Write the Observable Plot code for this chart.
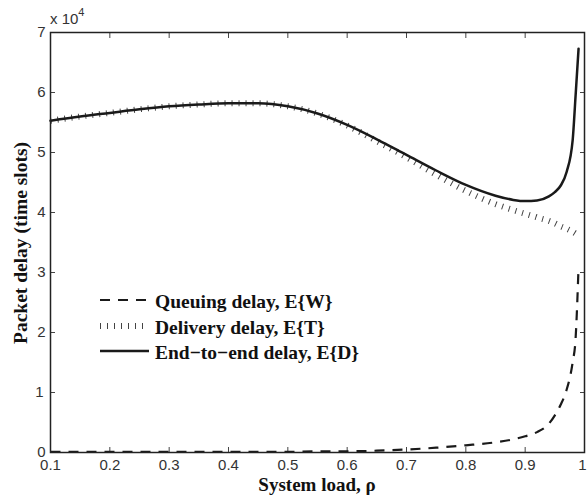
<!DOCTYPE html>
<html><head><meta charset="utf-8">
<script src="https://cdn.jsdelivr.net/npm/d3@7"></script>
<script src="https://cdn.jsdelivr.net/npm/@observablehq/plot@0.6"></script>
<style>body{margin:0;background:#fff;} #chart{position:relative;width:587px;height:500px;}</style>
</head><body><div id="chart"></div>
<script>
const rho = [0.10,0.15,0.20,0.25,0.30,0.35,0.40,0.45,0.50,0.55,0.60,0.65,0.70,0.75,0.80,0.85,0.88,0.90,0.92,0.94,0.95,0.96,0.97,0.98,0.985,0.99];
const endToEnd = [5.53,5.60,5.66,5.72,5.77,5.80,5.82,5.82,5.77,5.65,5.46,5.22,4.96,4.70,4.46,4.28,4.21,4.19,4.20,4.27,4.34,4.45,4.68,5.20,5.95,6.73];
const delivery = [5.53,5.60,5.66,5.72,5.77,5.80,5.82,5.82,5.77,5.65,5.45,5.19,4.92,4.63,4.36,4.14,4.04,3.98,3.92,3.86,3.82,3.77,3.73,3.68,3.65,3.62];
const queuing = [0.01,0.01,0.01,0.01,0.01,0.01,0.01,0.01,0.01,0.02,0.02,0.03,0.05,0.08,0.12,0.17,0.22,0.27,0.34,0.48,0.62,0.80,1.05,1.50,1.90,3.10];
const xTicks = [0.1,0.2,0.3,0.4,0.5,0.6,0.7,0.8,0.9,1];
const yTicks = [0,10000,20000,30000,40000,50000,60000,70000];
const seriesNames = ["Queuing delay, E{W}", "Delivery delay, E{T}", "End\u2212to\u2212end delay, E{D}"];

const mk = (arr) => rho.map((r, i) => ({rho: r, v: arr[i] * 1e4}));
const dW = mk(queuing), dT = mk(delivery), dD = mk(endToEnd);

const tickFont = {fontSize: 15, fontFamily: "Liberation Sans, Arial, sans-serif", fill: "#333"};
const plot = Plot.plot({
  width: 587, height: 500,
  marginLeft: 50, marginRight: 3, marginTop: 32, marginBottom: 48,
  style: {fontFamily: "Liberation Sans, Arial, sans-serif", fontSize: "15px", background: "#fff", overflow: "visible"},
  x: {domain: [0.1, 1], ticks: xTicks},
  y: {domain: [0, 70000], ticks: yTicks},
  marks: [
    Plot.axisX(xTicks, {anchor: "bottom", tickSize: -5, tickPadding: 12, tickFormat: d => String(d), label: null, ...tickFont, stroke: "#444"}),
    Plot.axisX(xTicks, {anchor: "top", tickSize: -5, tickFormat: () => "", label: null, stroke: "#444"}),
    Plot.axisY(yTicks, {anchor: "left", tickSize: -5, tickPadding: 10, tickFormat: d => String(d / 1e4), label: null, ...tickFont, stroke: "#444"}),
    Plot.axisY(yTicks, {anchor: "right", tickSize: -5, tickFormat: () => "", label: null, stroke: "#444"}),
    Plot.line(dT, {x: "rho", y: "v", stroke: "#444", strokeWidth: 6, strokeDasharray: "1,6", strokeLinecap: "butt", strokeLinejoin: "miter", curve: "monotone-x"}),
    Plot.line(dD, {x: "rho", y: "v", stroke: "#1a1a1a", strokeWidth: 2.5, curve: "monotone-x"}),
    Plot.line(dW, {x: "rho", y: "v", stroke: "#1a1a1a", strokeWidth: 2.2, strokeDasharray: "10,8", strokeLinecap: "butt", curve: "monotone-x"}),
    Plot.frame({stroke: "#222", strokeWidth: 1.5})
  ]
});
document.getElementById("chart").appendChild(plot);

const svg = d3.select(plot);
const serif = "Liberation Serif, Times New Roman, serif";
// exponent label
const ex = svg.append("text").attr("x", 50).attr("y", 24).attr("text-anchor", "start").attr("font-family", "Liberation Sans, Arial, sans-serif").attr("font-size", 15).attr("fill", "#333");
ex.append("tspan").text("x 10");
ex.append("tspan").attr("font-size", 11).attr("dy", -8).text("4");
// axis titles
svg.append("text").attr("x", 317).attr("y", 491).attr("text-anchor", "middle").attr("font-family", serif).attr("font-weight", "bold").attr("font-size", 19).attr("fill", "#111").text("System load, \u03c1");
svg.append("text").attr("transform", "translate(27,243) rotate(-90)").attr("text-anchor", "middle").attr("font-family", serif).attr("font-weight", "bold").attr("font-size", 19.5).attr("fill", "#111").text("Packet delay (time slots)");
// legend
const leg = svg.append("g");
const styles = [
  {dash: "10,8", w: 2.2, stroke: "#1a1a1a"},
  {dash: "1,6", w: 6, stroke: "#444"},
  {dash: null, w: 2.5, stroke: "#1a1a1a"}
];
const rowsY = [300, 326, 351];
seriesNames.forEach((name, i) => {
  const l = leg.append("line").attr("x1", 100).attr("x2", 149).attr("y1", rowsY[i]).attr("y2", rowsY[i])
    .attr("stroke", styles[i].stroke).attr("stroke-width", styles[i].w).attr("stroke-linecap", "butt");
  if (styles[i].dash) l.attr("stroke-dasharray", styles[i].dash);
  leg.append("text").attr("x", 155).attr("y", rowsY[i] + 8).attr("text-anchor", "start").attr("font-family", serif).attr("font-weight", "bold")
    .attr("font-size", 19.5).attr("fill", "#111").text(name);
});
// keep the last x tick label inside the picture, lift the y "0" off the x labels
svg.selectAll("text").filter(function() { return this.textContent === "1"; }).attr("dx", -2);
svg.selectAll("text").filter(function() { return this.textContent === "0"; }).attr("dy", "-0.05em");
</script></body></html>
